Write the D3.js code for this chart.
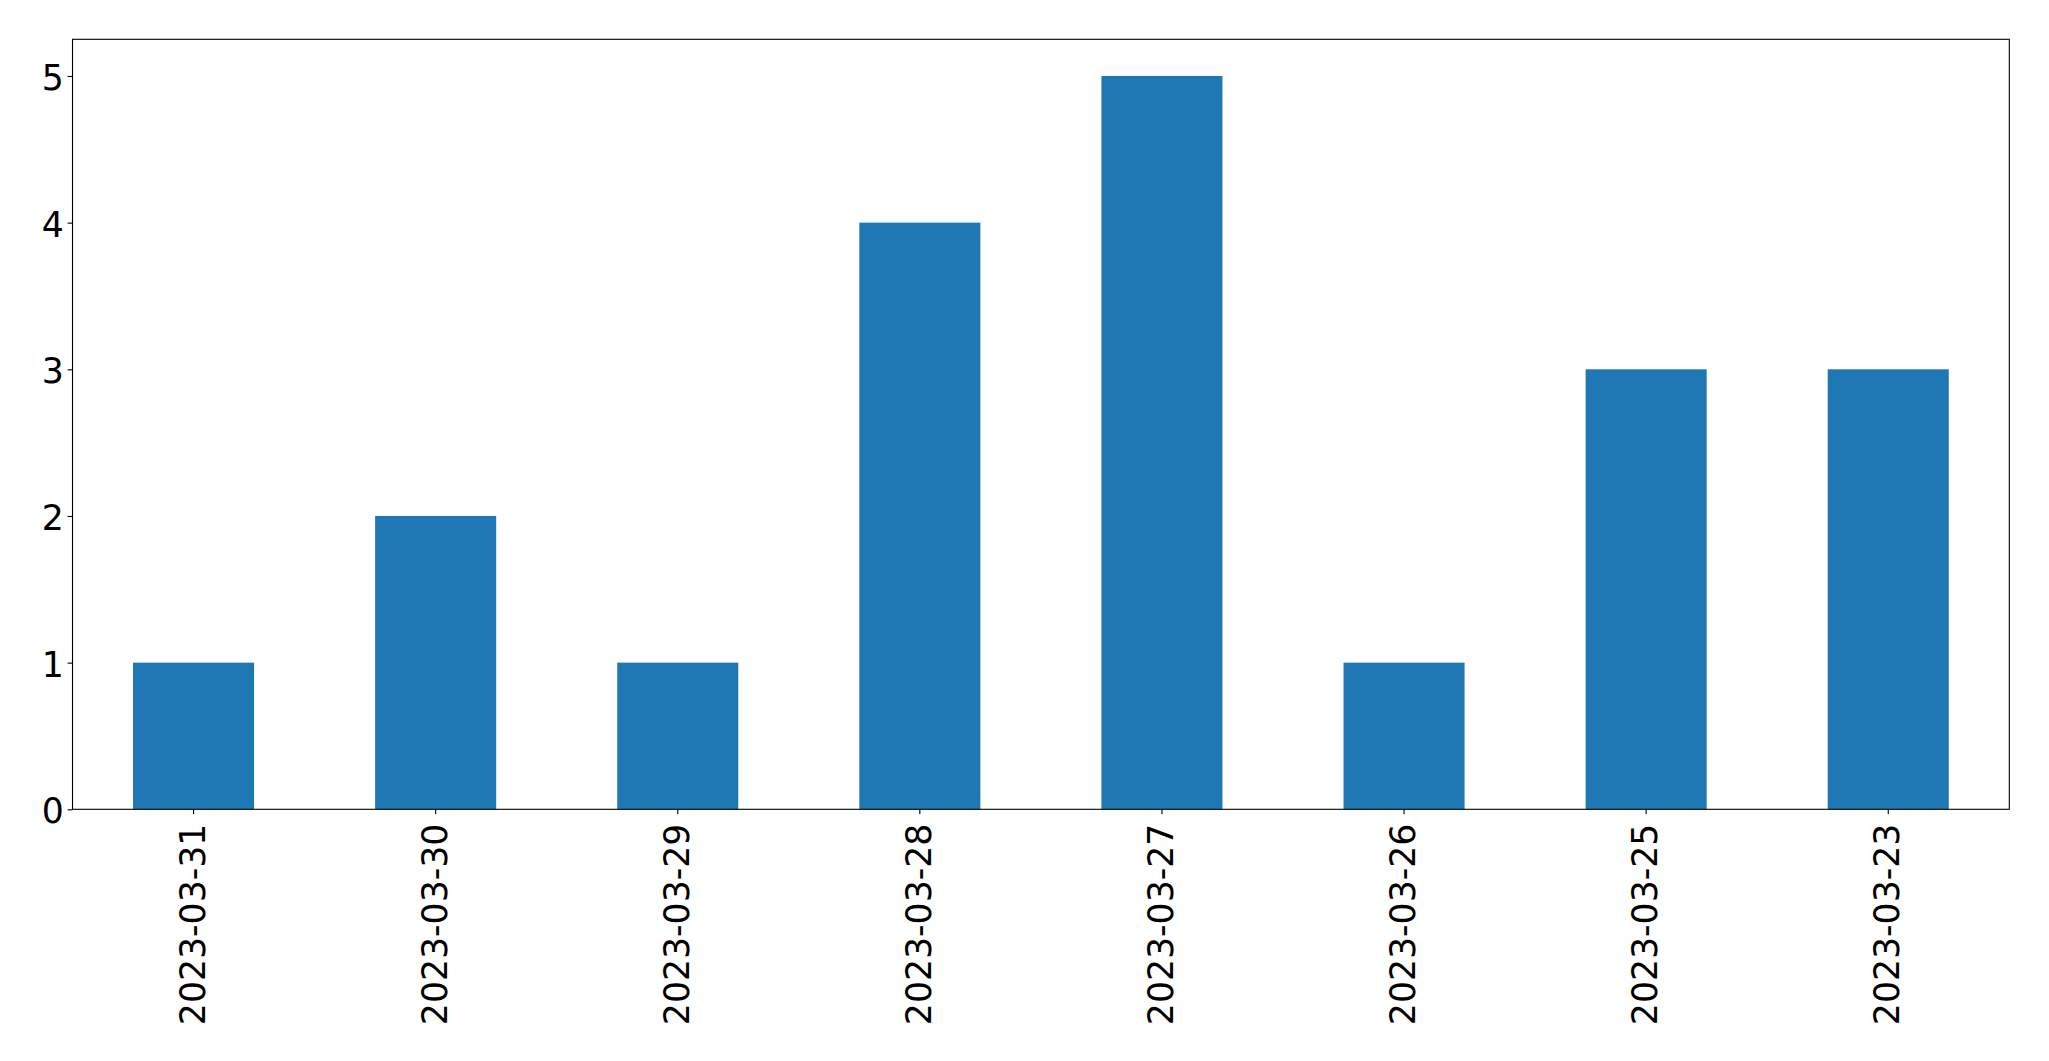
<!DOCTYPE html>
<html>
<head>
<meta charset="utf-8">
<script src="https://cdn.jsdelivr.net/npm/d3@7"></script>
<style>
  html, body { margin: 0; padding: 0; background: #fff; }
  svg { display: block; }
  text { font-family: "DejaVu Sans", sans-serif; fill: #000; }
</style>
</head>
<body>
<svg id="chart" width="2049" height="1061"></svg>
<script>
const categories = ["2023-03-31","2023-03-30","2023-03-29","2023-03-28","2023-03-27","2023-03-26","2023-03-25","2023-03-23"];
const values = [1, 2, 1, 4, 5, 1, 3, 3];
const yTicks = [0, 1, 2, 3, 4, 5];

const W = 2049, H = 1061;
const margin = { left: 72.5, right: 2009.3, top: 39.3, bottom: 809.3 };
const FONT = "34.7px";
const svg = d3.select("#chart");

const x = d3.scaleBand()
  .domain(categories)
  .range([margin.left, margin.right])
  .paddingInner(0.5)
  .paddingOuter(0.25);

const y = d3.scaleLinear()
  .domain([0, 5.25])
  .range([margin.bottom, margin.top]);

svg.append("g")
  .selectAll("rect")
  .data(values)
  .enter()
  .append("rect")
  .attr("x", (d, i) => x(categories[i]))
  .attr("width", x.bandwidth())
  .attr("y", d => y(d))
  .attr("height", d => y(0) - y(d))
  .attr("fill", "#1f77b4");

// Y axis
const yAxis = d3.axisLeft(y).tickValues(yTicks).tickFormat(d3.format("d")).tickSize(4.9).tickPadding(3.8);
const gy = svg.append("g").attr("transform", `translate(${margin.left},0)`).call(yAxis);
gy.select(".domain").remove();
gy.selectAll(".tick line").attr("stroke", "#000").attr("stroke-width", 1.1);
gy.selectAll(".tick text")
  .attr("font-size", FONT)
  .attr("font-family", "DejaVu Sans")
  .attr("fill", "#000")
  .attr("dy", "0.39em");

// X axis
const xAxis = d3.axisBottom(x).tickSize(4.9).tickPadding(4.9);
const gx = svg.append("g").attr("transform", `translate(0,${margin.bottom})`).call(xAxis);
gx.select(".domain").remove();
gx.selectAll(".tick line").attr("stroke", "#000").attr("stroke-width", 1.1);
gx.selectAll(".tick text")
  .attr("font-size", FONT)
  .attr("font-family", "DejaVu Sans")
  .attr("fill", "#000")
  .attr("text-anchor", "end")
  .attr("x", 0)
  .attr("y", 0)
  .attr("dy", "0.32em")
  .attr("transform", "translate(0,14.3) rotate(-90)");

// Frame (spines)
svg.append("rect")
  .attr("x", margin.left)
  .attr("y", margin.top)
  .attr("width", margin.right - margin.left)
  .attr("height", margin.bottom - margin.top)
  .attr("fill", "none")
  .attr("stroke", "#000")
  .attr("stroke-width", 1.1);
</script>
</body>
</html>
